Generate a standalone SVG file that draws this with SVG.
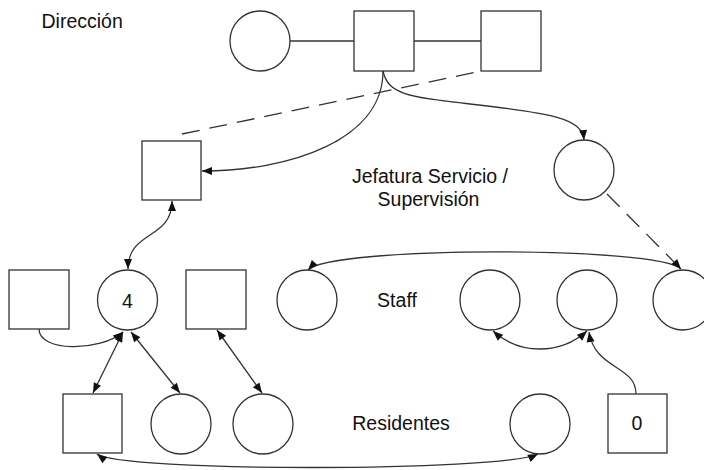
<svg xmlns="http://www.w3.org/2000/svg" width="704" height="470" viewBox="0 0 704 470">
<style>
.n{fill:#fff;stroke:#333;stroke-width:1.3}
.c{fill:none;stroke:#333;stroke-width:1.3}
.d{fill:none;stroke:#333;stroke-width:1.3;stroke-dasharray:18 10}
.t{font-family:"Liberation Sans",Arial,sans-serif;font-size:19.5px;fill:#111}
.m{text-anchor:middle}
</style>
<defs>
<marker id="a" viewBox="0 0 10 10" refX="10" refY="5" markerWidth="12.5" markerHeight="10" markerUnits="userSpaceOnUse" orient="auto-start-reverse">
<path d="M0,1 L10,5 L0,9 z" fill="#111"/>
</marker>
</defs>
<rect width="704" height="470" fill="#fff"/>
<g id="connectors">
<line class="c" x1="290" y1="41" x2="354" y2="41"/>
<line class="c" x1="414" y1="41" x2="481" y2="41"/>
<path class="d" d="M182,134 L481,71"/>
<path class="c" d="M383,71 C383,140 290,171 202,171" marker-end="url(#a)"/>
<path class="c" d="M383,71 C388,95 410,97 470,104 C550,113 582,118 584,140" marker-end="url(#a)"/>
<path class="d" d="M607,194 L680,268"/>
<path class="c" d="M172,201 C172,240 128,230 128,269" marker-start="url(#a)" marker-end="url(#a)"/>
<path class="c" d="M39,329 C39,352 100,352 123,332" marker-end="url(#a)"/>
<path class="c" d="M123,332 L93,393" marker-start="url(#a)" marker-end="url(#a)"/>
<path class="c" d="M131,332 L180,393" marker-start="url(#a)" marker-end="url(#a)"/>
<path class="c" d="M217,330 L262,393" marker-start="url(#a)" marker-end="url(#a)"/>
<path class="c" d="M308,270 C330,246 660,246 681,269" marker-start="url(#a)" marker-end="url(#a)"/>
<path class="c" d="M493,331 C520,355 560,355 587,331" marker-start="url(#a)" marker-end="url(#a)"/>
<path class="c" d="M636,394 C636,365 595,370 589,332" marker-end="url(#a)"/>
<path class="c" d="M97,454 C120,472 500,472 538,454" marker-start="url(#a)" marker-end="url(#a)"/>
</g>
<g id="dir-circle"><circle class="n" cx="260" cy="41" r="30"/></g>
<g id="dir-square1"><rect class="n" x="354" y="11" width="60" height="60"/></g>
<g id="dir-square2"><rect class="n" x="481" y="11" width="60" height="60"/></g>
<g id="jef-square"><rect class="n" x="142" y="141" width="59" height="59"/></g>
<g id="jef-circle"><circle class="n" cx="584" cy="170" r="30"/></g>
<g id="staff-square1"><rect class="n" x="9" y="270" width="60" height="59"/></g>
<g id="staff-circle4"><circle class="n" cx="127.5" cy="300" r="30"/><text class="t m" x="127.5" y="307.5">4</text></g>
<g id="staff-square2"><rect class="n" x="186" y="270" width="60" height="59"/></g>
<g id="staff-circle1"><circle class="n" cx="307" cy="300" r="30"/></g>
<g id="staff-circle2"><circle class="n" cx="490" cy="300" r="30"/></g>
<g id="staff-circle3"><circle class="n" cx="587" cy="300" r="30"/></g>
<g id="staff-circle4b"><circle class="n" cx="683" cy="300" r="30"/></g>
<g id="res-square1"><rect class="n" x="63" y="394" width="59" height="59"/></g>
<g id="res-circle1"><circle class="n" cx="181" cy="424" r="30"/></g>
<g id="res-circle2"><circle class="n" cx="263" cy="424" r="30"/></g>
<g id="res-circle3"><circle class="n" cx="540" cy="424" r="30"/></g>
<g id="res-square0"><rect class="n" x="608" y="394" width="59" height="59"/><text class="t m" x="637" y="429.5">0</text></g>
<g id="labels">
<text class="t" x="41.5" y="27.5">Dirección</text>
<text class="t m" x="430" y="183">Jefatura Servicio /</text>
<text class="t m" x="428.5" y="206">Supervisión</text>
<text class="t m" x="397" y="306.5">Staff</text>
<text class="t m" x="401" y="430">Residentes</text>
</g>
</svg>
